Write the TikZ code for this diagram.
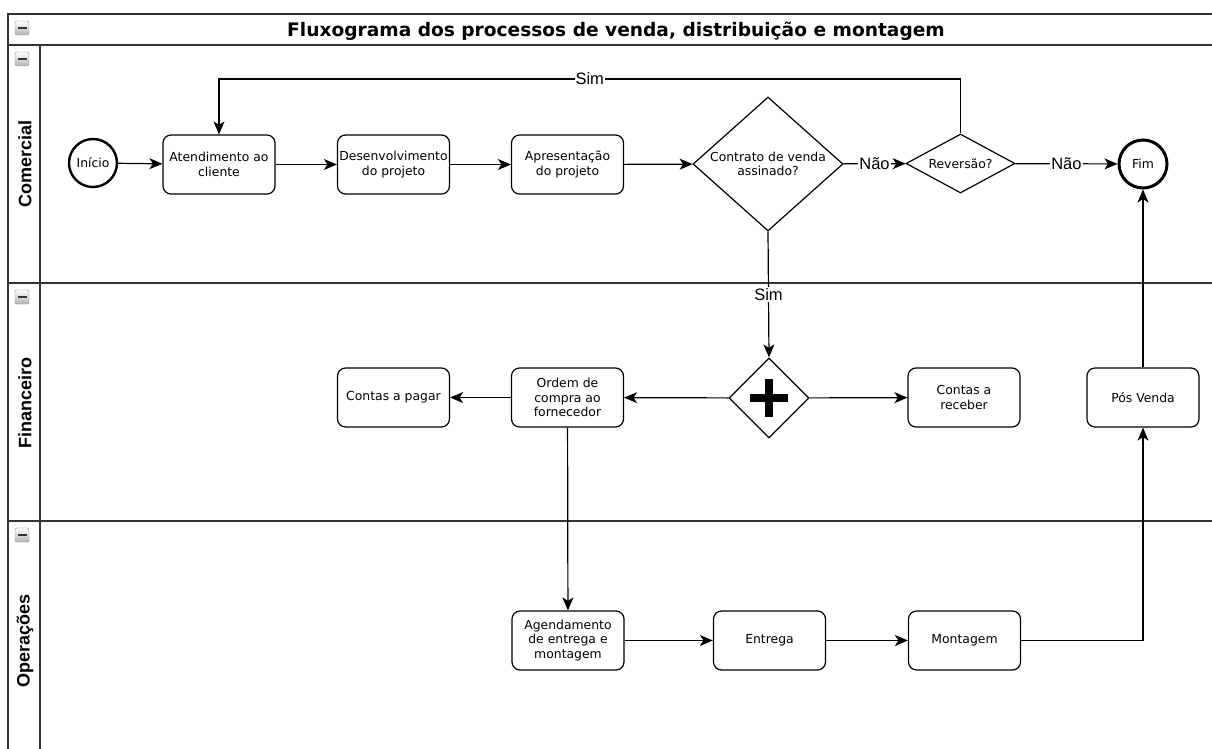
\documentclass[tikz,border=0pt]{standalone}
\usepackage{fontspec}
\setmainfont{DejaVu Sans}
\newfontfamily\lanefont{Liberation Sans}
\usetikzlibrary{shapes.geometric,arrows.meta}

\tikzset{
  collapse/.pic={
    \draw[rounded corners=1.5pt,draw=black!45,top color=white,bottom color=black!30] (-7,-7) rectangle (7,7);
    \fill[black!80] (-4.5,-1.3) rectangle (4.5,1.3);
  }
}

\begin{document}
\begin{tikzpicture}[x=1pt,y=-1pt,
  txt/.style={font=\fontsize{12.4}{14.5}\selectfont,align=center,inner sep=0pt},
  task/.style={txt,draw=black,line width=1.2pt,rounded corners=8pt,minimum width=112pt,minimum height=59pt},
  event/.style={txt,circle,draw=black,minimum size=48pt},
  gate/.style={diamond,draw=black,line width=1.2pt,inner sep=0pt},
  flow/.style={line width=1.2pt,-{Stealth[length=13pt,width=11pt,inset=3.5pt]}},
  cond/.style={fill=white,inner sep=1pt,font=\lanefont\fontsize{16.5}{18}\selectfont},
  pool/.style={line width=1.6pt,draw=black!80},
  lane/.style={rotate=90,font=\lanefont\bfseries\fontsize{18}{20}\selectfont}
]
\useasboundingbox (0,0) rectangle (1212,749);
\fill[white] (0,0) rectangle (1212,749);

% pool frame and lanes
\draw[pool] (8,749) -- (8,14) -- (1212,14);
\draw[pool] (8,45) -- (1212,45);
\draw[pool] (40,45) -- (40,749);
\draw[pool] (8,283) -- (1212,283);
\draw[pool] (8,521) -- (1212,521);

\pic at (22,28) {collapse};
\pic at (22,59) {collapse};
\pic at (22,297) {collapse};
\pic at (22,535) {collapse};

\node[font=\bfseries\fontsize{18.6}{20}\selectfont] (titulo) at (616,31) {Fluxograma dos processos de venda, distribuição e montagem};
\node[lane] (comercial) at (25,164) {Comercial};
\node[lane] (financeiro) at (25,403) {Financeiro};
\node[lane] (operacoes) at (25,641) {Operações};

% Comercial
\node[event,line width=2.4pt] (inicio) at (93,163) {Início};
\node[task] (atend) at (219,164.5) {Atendimento ao\\cliente};
\node[task] (desenv) at (393.5,164.5) {Desenvolvimento\\do projeto};
\node[task] (apres) at (567.5,164.5) {Apresentação\\do projeto};
\node[gate,minimum width=150pt,minimum height=134pt,aspect=1.12] (contrato) at (768,164) {};
\node[txt] (contratotxt) at (contrato) {Contrato de venda\\assinado?};
\node[gate,minimum width=109pt,minimum height=59pt,aspect=1.85] (reversao) at (960.5,163.5) {};
\node[txt] (reversaotxt) at (reversao) {Reversão?};
\node[event,line width=3pt] (fim) at (1143,164) {Fim};
\coordinate (simtop) at (590,79);

% Financeiro
\node[task] (pagar) at (393.5,397.5) {Contas a pagar};
\node[task] (ordem) at (567.5,397.5) {Ordem de\\compra ao\\fornecedor};
\node[gate,minimum width=80pt,minimum height=80pt] (paralelo) at (769,398) {};
\draw[line width=8.5pt] ([xshift=-19pt]paralelo.center) -- ([xshift=19pt]paralelo.center);
\draw[line width=8.5pt] ([yshift=-19pt]paralelo.center) -- ([yshift=19pt]paralelo.center);
\node[task] (receber) at (964,397.5) {Contas a\\receber};
\node[task] (posvenda) at (1143,397.5) {Pós Venda};

% Operacoes
\node[task] (agenda) at (568,640.5) {Agendamento\\de entrega e\\montagem};
\node[task] (entrega) at (769.5,640.5) {Entrega};
\node[task] (montagem) at (964.5,640.5) {Montagem};

% sequence flows
\draw[flow] (inicio) -- (atend);
\draw[flow] (atend) -- (desenv);
\draw[flow] (desenv) -- (apres);
\draw[flow] (apres) -- (contrato);
\draw[flow] (contrato) -- node[cond] {Não} (reversao);
\draw[flow] (reversao) -- node[cond] {Não} (fim);
\draw[flow] (reversao.north) -- (reversao.north |- simtop) -- node[cond] {Sim} (atend.north |- simtop) -- (atend.north);
\draw[flow] (contrato.south) -- node[cond] {Sim} (paralelo.north);
\draw[flow] (paralelo) -- (ordem);
\draw[flow] (paralelo) -- (receber);
\draw[flow] (ordem) -- (pagar);
\draw[flow] (ordem) -- (agenda);
\draw[flow] (agenda) -- (entrega);
\draw[flow] (entrega) -- (montagem);
\draw[flow] (montagem) -| (posvenda);
\draw[flow] (posvenda) -- (fim);
\end{tikzpicture}
\end{document}
